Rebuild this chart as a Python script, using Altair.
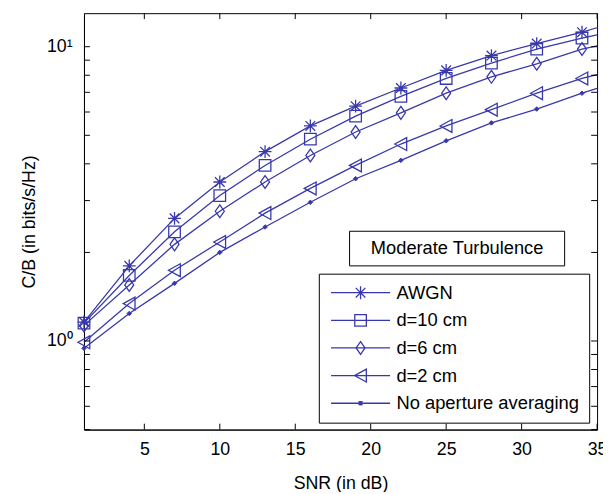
import altair as alt
import pandas as pd

# ---------------- data ----------------
snr = [1, 4, 7, 10, 13, 16, 19, 22, 25, 28, 31, 34, 35]
awgn = [1.16, 1.80, 2.61, 3.47, 4.40, 5.38, 6.28, 7.24, 8.31, 9.33, 10.25, 11.2, 11.6]
d10 = [1.15, 1.67, 2.35, 3.12, 3.95, 4.85, 5.81, 6.78, 7.80, 8.80, 9.82, 10.7, 10.97]
d6 = [1.13, 1.55, 2.13, 2.76, 3.47, 4.27, 5.13, 5.96, 6.95, 7.90, 8.75, 9.82, 10.07]
d2 = [0.99, 1.34, 1.74, 2.17, 2.72, 3.30, 3.95, 4.67, 5.38, 6.11, 6.95, 7.80, 8.04]
noap = [0.945, 1.24, 1.57, 2.00, 2.44, 2.96, 3.56, 4.11, 4.79, 5.51, 6.14, 6.95, 7.22]
series_names = ["AWGN", "d=10 cm", "d=6 cm", "d=2 cm", "No aperture averaging"]
marker_last = 34

y_tick_values = [0.5, 0.6, 0.7, 0.8, 0.9, 1, 2, 3, 4, 5, 6, 7, 8, 9, 10]
y_label_values = [1, 10]
x_tick_values = [5, 10, 15, 20, 25, 30, 35]

title_box_text = ["Moderate Turbulence"]
title_box_x = [18.6, 32.85]
title_box_y = [1.80, 2.36]

# ---------------- tables ----------------
rows = []
for name, vals in zip(series_names, [awgn, d10, d6, d2, noap]):
    for x, v in zip(snr, vals):
        rows.append({"snr": x, "cb": v, "series": name, "marker": x <= marker_last})
df = pd.DataFrame(rows)
df_mark = df[df["marker"]]

BLUE = "#3838ac"
W, H = 520, 422
FONT = "Liberation Sans"
SW = 1.3

xscale = alt.Scale(domain=[1, 35], nice=False, zero=False)
yscale = alt.Scale(type="log", domain=[0.5, 13], nice=False)

marker_paths = [
    "M0,-1V1M-1,0H1M-0.75,-0.75L0.75,0.75M-0.75,0.75L0.75,-0.75",
    "M-0.9,-0.9H0.9V0.9H-0.9Z",
    "M0,-1L0.7,0L0,1L-0.7,0Z",
    "M-0.95,0L0.9,-1V1Z",
    "M0,-0.35L0.35,0L0,0.35L-0.35,0Z",
]
legend_dot = "M-0.3,-0.3L0.3,0.3M-0.3,0.3L0.3,-0.3M0,-0.35V0.35M-0.35,0H0.35M-0.2,-0.2H0.2V0.2H-0.2Z"
line_seg = "M-4.6,0H4.6"
legend_paths = [line_seg + p for p in marker_paths[:4]] + [line_seg + legend_dot]


def x_axis():
    return alt.Axis(title="SNR (in dB)", values=x_tick_values, ticks=False, tickSize=0,
                    labelPadding=11, titlePadding=17, grid=False)


def y_axis():
    return alt.Axis(title="C/B (in bits/s/Hz)", values=y_label_values, ticks=False, tickSize=0,
                    labelPadding=12, titlePadding=8, grid=False,
                    labelExpr="datum.value == 1 ? '10⁰' : '10¹'")


def X(field):
    return alt.X(field, scale=xscale, axis=x_axis())


def Y(field):
    return alt.Y(field, scale=yscale, axis=y_axis())


lines = alt.Chart(df).mark_line(color=BLUE, strokeWidth=SW).encode(
    x=X("snr:Q"), y=Y("cb:Q"), detail="series:N",
)

hollow = alt.Chart(df_mark).transform_filter(
    alt.datum.series != "No aperture averaging"
).mark_point(filled=False, stroke=BLUE, strokeWidth=SW, size=169, opacity=1).encode(
    x=X("snr:Q"), y=Y("cb:Q"),
    shape=alt.Shape("series:N", scale=alt.Scale(domain=series_names, range=marker_paths), legend=None),
)

dots = alt.Chart(df_mark).transform_filter(
    alt.datum.series == "No aperture averaging"
).mark_point(filled=True, fill=BLUE, stroke=BLUE, strokeWidth=1, size=169, opacity=1,
             shape=marker_paths[4]).encode(
    x=X("snr:Q"), y=Y("cb:Q"),
)

# legend generator: same points, shifted out of the clipped plot area
legend_layer = alt.Chart(df_mark).transform_calculate(
    legend_series="datum.series"
).mark_point(filled=False, stroke=BLUE, strokeWidth=SW, size=169, opacity=1,
             clip=True, xOffset=-3000).encode(
    x=X("snr:Q"), y=Y("cb:Q"),
    shape=alt.Shape("legend_series:N",
                    scale=alt.Scale(domain=series_names, range=legend_paths),
                    legend=alt.Legend(title=None)),
)

ydf = pd.DataFrame({"v": y_tick_values})
xdf = pd.DataFrame({"v": x_tick_values})
TL = 6
tick_left = alt.Chart(ydf).mark_rule(color="black", strokeWidth=1).encode(
    y=Y("v:Q"), x=alt.value(0), x2=alt.value(TL))
tick_right = alt.Chart(ydf).mark_rule(color="black", strokeWidth=1).encode(
    y=Y("v:Q"), x=alt.value(W - TL), x2=alt.value(W))
tick_bottom = alt.Chart(xdf).mark_rule(color="black", strokeWidth=1).encode(
    x=X("v:Q"), y=alt.value(H), y2=alt.value(H - TL))
tick_top = alt.Chart(xdf).mark_rule(color="black", strokeWidth=1).encode(
    x=X("v:Q"), y=alt.value(0), y2=alt.value(TL))

box_df = pd.DataFrame({"x1": [title_box_x[0]], "x2": [title_box_x[1]],
                       "y1": [title_box_y[0]], "y2": [title_box_y[1]],
                       "xc": [sum(title_box_x) / 2],
                       "yc": [(title_box_y[0] * title_box_y[1]) ** 0.5],
                       "t": title_box_text})
title_rect = alt.Chart(box_df).mark_rect(fill="white", stroke="black", strokeWidth=1).encode(
    x=X("x1:Q"), x2="x2:Q", y=Y("y1:Q"), y2="y2:Q")
title_text = alt.Chart(box_df).mark_text(font=FONT, fontSize=18.5, color="black",
                                         align="center", baseline="middle").encode(
    x=X("xc:Q"), y=Y("yc:Q"), text="t:N")

chart = alt.layer(
    lines, hollow, dots, legend_layer,
    tick_left, tick_right, tick_bottom, tick_top,
    title_rect, title_text,
).resolve_scale(
    shape="independent"
).properties(
    width=W, height=H,
    padding={"left": 77, "top": 2, "right": 6, "bottom": 60},
    autosize=alt.AutoSizeParams(type="none"),
    background="white",
).configure_view(
    stroke="black", strokeWidth=1
).configure_axis(
    labelFont=FONT, titleFont=FONT, labelFontSize=18, titleFontSize=18,
    labelColor="black", titleColor="black", domainColor="black", domainWidth=1,
    titleFontWeight="normal", labelFlush=False, labelOverlap=False,
).configure_legend(
    orient="none", legendX=238, legendY=264,
    padding=10, rowPadding=9,
    strokeColor="black", fillColor="white", strokeWidth=1, cornerRadius=0,
    symbolSize=169, symbolStrokeWidth=SW, symbolStrokeColor=BLUE,
    symbolFillColor="transparent", symbolOpacity=1,
    symbolOffset=23, labelOffset=27,
    labelFont=FONT, labelFontSize=18.6, labelColor="black", labelLimit=400,
)

chart.save("out.html", embed_options={"renderer": "svg", "actions": False})
